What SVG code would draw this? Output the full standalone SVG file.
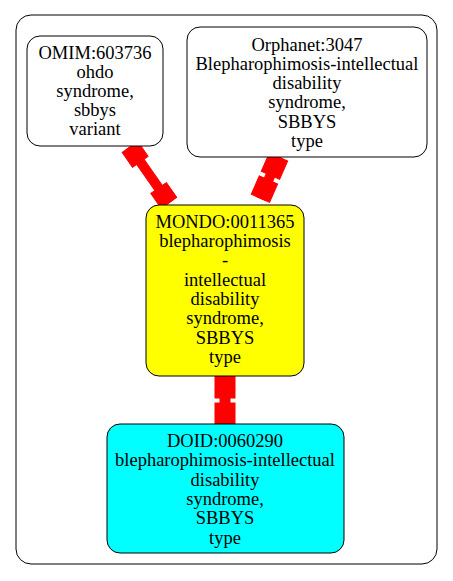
<svg xmlns="http://www.w3.org/2000/svg" width="453" height="581" viewBox="0 0 453 581">
<style>
text{font-family:"Liberation Serif","Times New Roman",serif;font-size:18.5px;text-anchor:middle;fill:#000}
.n{stroke:#000;stroke-width:1}
.e{fill:#ff0000;stroke:#ff0000;stroke-width:1}
</style>
<rect width="453" height="581" fill="#fff"/>
<rect x="16" y="15" width="421" height="549" rx="15" fill="none" stroke="#000"/>
<g id="connectors">
<g transform="translate(130,147) rotate(55.1)">
<rect class="e" x="0" y="-9.5" width="18" height="19"/>
<rect class="e" x="0" y="-4.5" width="68" height="9"/>
<rect class="e" x="50" y="-9.5" width="18" height="19"/>
</g>
<g transform="translate(278.5,157) rotate(113.7)">
<rect class="e" x="0" y="-10" width="20" height="20"/>
<rect class="e" x="0" y="-4.5" width="45" height="9"/>
<rect class="e" x="25" y="-10" width="20" height="20"/>
</g>
<g transform="translate(225,376) rotate(90)">
<rect class="e" x="0" y="-10" width="22" height="20"/>
<rect class="e" x="0" y="-5" width="48" height="10"/>
<rect class="e" x="27" y="-10" width="21" height="20"/>
</g>
</g>
<g id="omim">
<rect class="n" x="27" y="36" width="136" height="110" rx="13" fill="#fff"/>
<text x="95" y="59">OMIM:603736</text>
<text x="95" y="78">ohdo</text>
<text x="95" y="97">syndrome,</text>
<text x="95" y="116">sbbys</text>
<text x="95" y="135">variant</text>
</g>
<g id="orphanet">
<rect class="n" x="187" y="27" width="240" height="130" rx="13" fill="#fff"/>
<text x="307" y="51">Orphanet:3047</text>
<text x="307" y="70">Blepharophimosis-intellectual</text>
<text x="307" y="89">disability</text>
<text x="307" y="108">syndrome,</text>
<text x="307" y="128">SBBYS</text>
<text x="307" y="147">type</text>
</g>
<g id="mondo">
<rect class="n" x="146" y="205" width="158" height="171" rx="13" fill="#ffff00"/>
<text x="225" y="228">MONDO:0011365</text>
<text x="225" y="247">blepharophimosis</text>
<text x="225" y="266">-</text>
<text x="225" y="286">intellectual</text>
<text x="225" y="305">disability</text>
<text x="225" y="324">syndrome,</text>
<text x="225" y="344">SBBYS</text>
<text x="225" y="363">type</text>
</g>
<g id="doid">
<rect class="n" x="107" y="424" width="237" height="129" rx="13" fill="#00ffff"/>
<text x="225" y="447">DOID:0060290</text>
<text x="225" y="466">blepharophimosis-intellectual</text>
<text x="225" y="486">disability</text>
<text x="225" y="505">syndrome,</text>
<text x="225" y="524">SBBYS</text>
<text x="225" y="544">type</text>
</g>
</svg>
